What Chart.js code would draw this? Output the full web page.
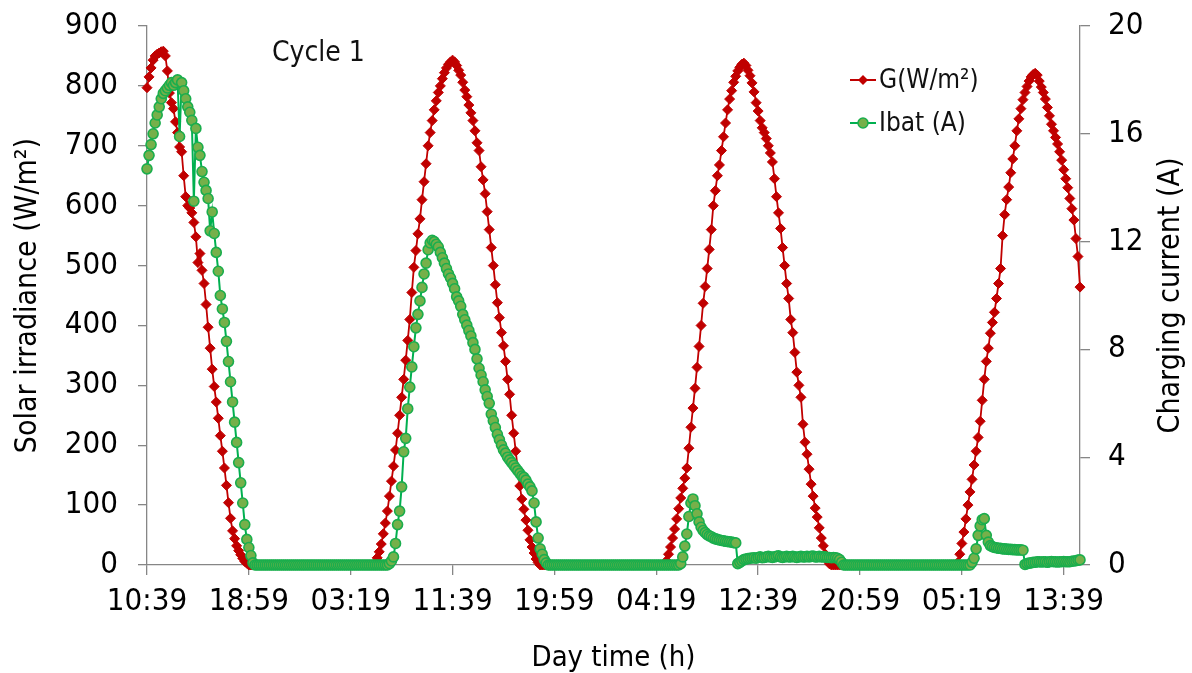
<!DOCTYPE html>
<html>
<head>
<meta charset="utf-8">
<script src="https://cdn.jsdelivr.net/npm/chart.js@4.4.1/dist/chart.umd.min.js"></script>
<style>
  html, body { margin: 0; padding: 0; background: #fff; }
  canvas { display: block; }
</style>
</head>
<body>
<canvas id="chart" width="1192" height="673"></canvas>
<script>
const FONT = "'DejaVu Sans Condensed', 'DejaVu Sans', sans-serif";

// Logger samples every 10 minutes, starting at 10:39 on day 1
const sampleStepMin = 10;
const tickStepMin = 500;
const tickLabels = ['10:39', '18:59', '03:19', '11:39', '19:59', '04:19', '12:39', '20:59', '05:19', '13:39'];

// Solar irradiance G (W/m²), one row = 100 minutes
const irradiance = [
  797,815,830,843,850,853,855,857,858,850,
  825,788,772,762,740,722,698,690,650,615,
  600,596,588,572,548,505,520,492,470,435,
  397,362,327,298,272,245,216,190,162,133,
  104,78,57,44,32,24,17,11,6,3,
  0,0,0,0,0,0,0,0,0,0,
  0,0,0,0,0,0,0,0,0,0,
  0,0,0,0,0,0,0,0,0,0,
  0,0,0,0,0,0,0,0,0,0,
  0,0,0,0,0,0,0,0,0,0,
  0,0,0,0,0,0,0,0,0,0,
  0,0,4,12,22,35,52,70,90,115,
  140,165,192,220,250,280,310,342,375,410,
  455,497,525,553,578,610,640,670,700,722,
  742,760,775,789,800,812,822,830,836,840,
  843,840,834,826,818,806,793,782,768,755,
  742,725,705,692,665,643,620,590,560,530,
  500,468,438,413,388,366,340,310,285,250,
  220,190,160,132,110,93,75,58,42,30,
  20,10,4,0,0,0,0,0,0,0,
  0,0,0,0,0,0,0,0,0,0,
  0,0,0,0,0,0,0,0,0,0,
  0,0,0,0,0,0,0,0,0,0,
  0,0,0,0,0,0,0,0,0,0,
  0,0,0,0,0,0,0,0,0,0,
  0,0,0,0,2,7,18,30,45,60,
  77,94,112,128,145,162,195,230,262,295,
  330,365,400,437,465,495,527,560,600,625,
  650,668,692,715,738,760,778,792,806,816,
  825,831,836,838,834,826,817,805,790,772,
  758,742,730,722,712,700,688,673,645,615,
  588,562,530,500,470,445,410,388,355,322,
  300,280,235,205,185,160,135,115,95,80,
  62,45,32,18,8,2,0,0,0,0,
  0,0,0,0,0,0,0,0,0,0,
  0,0,0,0,0,0,0,0,0,0,
  0,0,0,0,0,0,0,0,0,0,
  0,0,0,0,0,0,0,0,0,0,
  0,0,0,0,0,0,0,0,0,0,
  0,0,0,0,0,0,0,0,4,18,
  36,55,77,100,122,143,167,190,213,240,
  275,310,340,362,387,405,422,445,470,495,
  550,585,610,631,655,678,700,725,745,762,
  777,789,799,808,815,819,821,818,808,798,
  789,778,764,750,736,725,714,703,690,676,
  660,645,630,612,595,576,545,515,464
];

// Battery charging current Ibat (A), same sampling
const current = [
  14.7,15.2,15.6,16.0,16.4,16.7,17.0,17.3,17.5,17.6,
  17.7,17.8,17.9,17.8,17.9,18.0,15.9,17.9,17.6,17.3,
  17.0,16.8,16.5,13.5,16.2,15.5,15.2,14.6,14.2,13.9,
  13.6,12.4,13.1,12.3,11.6,10.9,10.0,9.5,9.0,8.3,
  7.55,6.8,6.05,5.3,4.55,3.8,3.05,2.3,1.5,0.95,
  0.65,0.35,0.08,0,0,0,0,0,0,0,
  0,0,0,0,0,0,0,0,0,0,
  0,0,0,0,0,0,0,0,0,0,
  0,0,0,0,0,0,0,0,0,0,
  0,0,0,0,0,0,0,0,0,0,
  0,0,0,0,0,0,0,0,0,0,
  0,0,0,0,0,0,0,0,0,0.05,
  0.15,0.3,0.8,1.5,2.0,2.9,4.2,4.7,5.8,6.6,
  7.35,8.1,8.8,9.3,9.8,10.3,10.8,11.2,11.7,11.95,
  12.05,12.0,11.9,11.8,11.6,11.4,11.2,11.0,10.8,10.65,
  10.45,10.25,9.95,9.8,9.6,9.3,9.1,8.9,8.7,8.5,
  8.25,8.0,7.65,7.3,7.05,6.8,6.5,6.25,6.0,5.6,
  5.35,5.1,4.85,4.65,4.45,4.27,4.15,4.0,3.9,3.8,
  3.7,3.6,3.5,3.4,3.3,3.25,3.15,3.0,2.9,2.75,
  2.3,1.6,1.0,0.6,0.4,0.2,0.08,0,0,0,
  0,0,0,0,0,0,0,0,0,0,
  0,0,0,0,0,0,0,0,0,0,
  0,0,0,0,0,0,0,0,0,0,
  0,0,0,0,0,0,0,0,0,0,
  0,0,0,0,0,0,0,0,0,0,
  0,0,0,0,0,0,0,0,0,0,
  0,0,0.05,0.3,0.7,1.15,1.8,2.3,2.45,2.2,
  1.9,1.6,1.4,1.28,1.2,1.13,1.08,1.05,1.0,0.97,
  0.95,0.93,0.91,0.9,0.88,0.87,0.86,0.85,0.83,0.82,
  0.05,0.1,0.15,0.2,0.22,0.24,0.25,0.26,0.27,0.25,
  0.28,0.3,0.27,0.28,0.3,0.32,0.3,0.28,0.3,0.32,
  0.34,0.3,0.28,0.3,0.32,0.3,0.3,0.32,0.3,0.28,
  0.3,0.32,0.3,0.3,0.32,0.3,0.32,0.33,0.3,0.3,
  0.32,0.3,0.3,0.3,0.28,0.28,0.27,0.28,0.27,0.25,
  0.2,0.1,0,0,0,0,0,0,0,0,
  0,0,0,0,0,0,0,0,0,0,
  0,0,0,0,0,0,0,0,0,0,
  0,0,0,0,0,0,0,0,0,0,
  0,0,0,0,0,0,0,0,0,0,
  0,0,0,0,0,0,0,0,0,0,
  0,0,0,0,0,0.1,0.25,0.6,1.1,1.45,
  1.68,1.72,1.1,0.85,0.72,0.68,0.65,0.64,0.62,0.62,
  0.6,0.6,0.59,0.58,0.58,0.57,0.57,0.56,0.56,0.56,
  0.55,0.02,0.05,0.07,0.08,0.1,0.1,0.12,0.12,0.11,
  0.12,0.12,0.1,0.12,0.13,0.12,0.12,0.11,0.12,0.12,
  0.13,0.12,0.12,0.12,0.14,0.15,0.16,0.18,0.19
];

const seriesNames = ['G(W/m²)', 'Ibat (A)'];
const cycleLabel = 'Cycle 1';
const rightTitle = 'Charging current (A)';

const RED = '#c00000';
const GREEN_LINE = '#00b050';
const GREEN_FILL = '#76b04a';
const GREEN_EDGE = '#1aae4d';
const AXIS = '#868686';

const toPoints = arr => arr.map((v, i) => ({ x: i * sampleStepMin, y: v }));

// Legend drawn inside the plot, Excel style (line with marker through it),
// plus the cycle caption and the right-hand axis title read bottom-to-top
const annotations = {
  id: 'annotations',
  afterDatasetsDraw(chart) {
    const ctx = chart.ctx;
    const rows = [
      { y: 80, name: seriesNames[0], kind: 'diamond' },
      { y: 123, name: seriesNames[1], kind: 'circle' }
    ];
    ctx.save();
    rows.forEach(r => {
      const x0 = 850, x1 = 876, xm = (x0 + x1) / 2;
      ctx.lineWidth = 2;
      ctx.strokeStyle = r.kind === 'diamond' ? RED : GREEN_LINE;
      ctx.beginPath(); ctx.moveTo(x0, r.y); ctx.lineTo(x1, r.y); ctx.stroke();
      if (r.kind === 'diamond') {
        ctx.fillStyle = RED;
        ctx.beginPath();
        ctx.moveTo(xm - 5, r.y); ctx.lineTo(xm, r.y - 5);
        ctx.lineTo(xm + 5, r.y); ctx.lineTo(xm, r.y + 5);
        ctx.closePath(); ctx.fill();
      } else {
        ctx.fillStyle = GREEN_FILL; ctx.strokeStyle = GREEN_EDGE; ctx.lineWidth = 1.5;
        ctx.beginPath(); ctx.arc(xm, r.y, 5, 0, Math.PI * 2); ctx.fill(); ctx.stroke();
      }
      ctx.fillStyle = '#111';
      ctx.font = '26px ' + FONT;
      ctx.textAlign = 'left';
      ctx.textBaseline = 'middle';
      ctx.fillText(r.name, 879, r.y + 1);
    });
    ctx.font = '28px ' + FONT;
    ctx.textBaseline = 'alphabetic';
    ctx.fillText(cycleLabel, 272, 61);

    const area = chart.chartArea;
    ctx.translate(1171, (area.top + area.bottom) / 2);
    ctx.rotate(-Math.PI / 2);
    ctx.font = '30px ' + FONT;
    ctx.fillStyle = '#000';
    ctx.textAlign = 'center';
    ctx.textBaseline = 'middle';
    ctx.fillText(rightTitle, 0, 0);
    ctx.restore();
  }
};

const axisGrid = len => ({ drawOnChartArea: false, drawTicks: true, tickLength: len, color: AXIS, lineWidth: 1.3 });
const axisBorder = { display: true, color: AXIS, width: 1.3 };

// Fixed box sizes for the side scales so the plot frame lands where it should
const fitSide = w => s => { s.width = w; s.paddingTop = 0; s.paddingBottom = 0; };

new Chart(document.getElementById('chart'), {
  type: 'line',
  data: {
    datasets: [
      {
        label: seriesNames[0],
        data: toPoints(irradiance),
        yAxisID: 'yG',
        borderColor: RED,
        backgroundColor: RED,
        borderWidth: 1.8,
        pointStyle: 'rectRot',
        pointRadius: 5,
        pointBorderWidth: 1,
        pointBackgroundColor: RED,
        pointBorderColor: RED,
        tension: 0,
        clip: false,
        order: 2
      },
      {
        label: seriesNames[1],
        data: toPoints(current),
        yAxisID: 'yI',
        borderColor: GREEN_LINE,
        backgroundColor: GREEN_FILL,
        borderWidth: 2,
        pointStyle: 'circle',
        pointRadius: 5,
        pointBorderWidth: 1.6,
        pointBackgroundColor: GREEN_FILL,
        pointBorderColor: GREEN_EDGE,
        tension: 0,
        clip: false,
        order: 1
      }
    ]
  },
  options: {
    responsive: false,
    animation: false,
    events: [],
    layout: { padding: { top: 26, left: 0, right: 0, bottom: 0 } },
    plugins: { legend: { display: false }, tooltip: { enabled: false } },
    scales: {
      x: {
        type: 'linear',
        min: 0,
        max: (irradiance.length - 1) * sampleStepMin,
        afterBuildTicks: s => { s.ticks = tickLabels.map((_, i) => ({ value: i * tickStepMin })); },
        afterFit: s => { s.height = 108; s.paddingLeft = 0; s.paddingRight = 0; },
        grid: axisGrid(10),
        border: axisBorder,
        ticks: {
          autoSkip: false,
          maxRotation: 0,
          padding: 8,
          color: '#000',
          font: { family: FONT, size: 31 },
          callback: (v, i) => tickLabels[i]
        },
        title: { display: true, text: 'Day time (h)', color: '#000', font: { family: FONT, size: 29, lineHeight: 1 }, padding: { top: 0, bottom: 0 } }
      },
      yG: {
        position: 'left',
        min: 0, max: 900,
        afterFit: fitSide(147),
        grid: axisGrid(9),
        border: axisBorder,
        ticks: { stepSize: 100, padding: 20, color: '#000', font: { family: FONT, size: 31 } },
        title: { display: true, text: 'Solar irradiance (W/m²)', color: '#000', font: { family: FONT, size: 30 }, padding: { top: 10, bottom: 0 } }
      },
      yI: {
        position: 'right',
        min: 0, max: 20,
        afterFit: fitSide(112),
        grid: axisGrid(10),
        border: axisBorder,
        ticks: { stepSize: 4, padding: 18, color: '#000', font: { family: FONT, size: 31 } },
        title: { display: false }
      }
    }
  },
  plugins: [annotations]
});
</script>
</body>
</html>
